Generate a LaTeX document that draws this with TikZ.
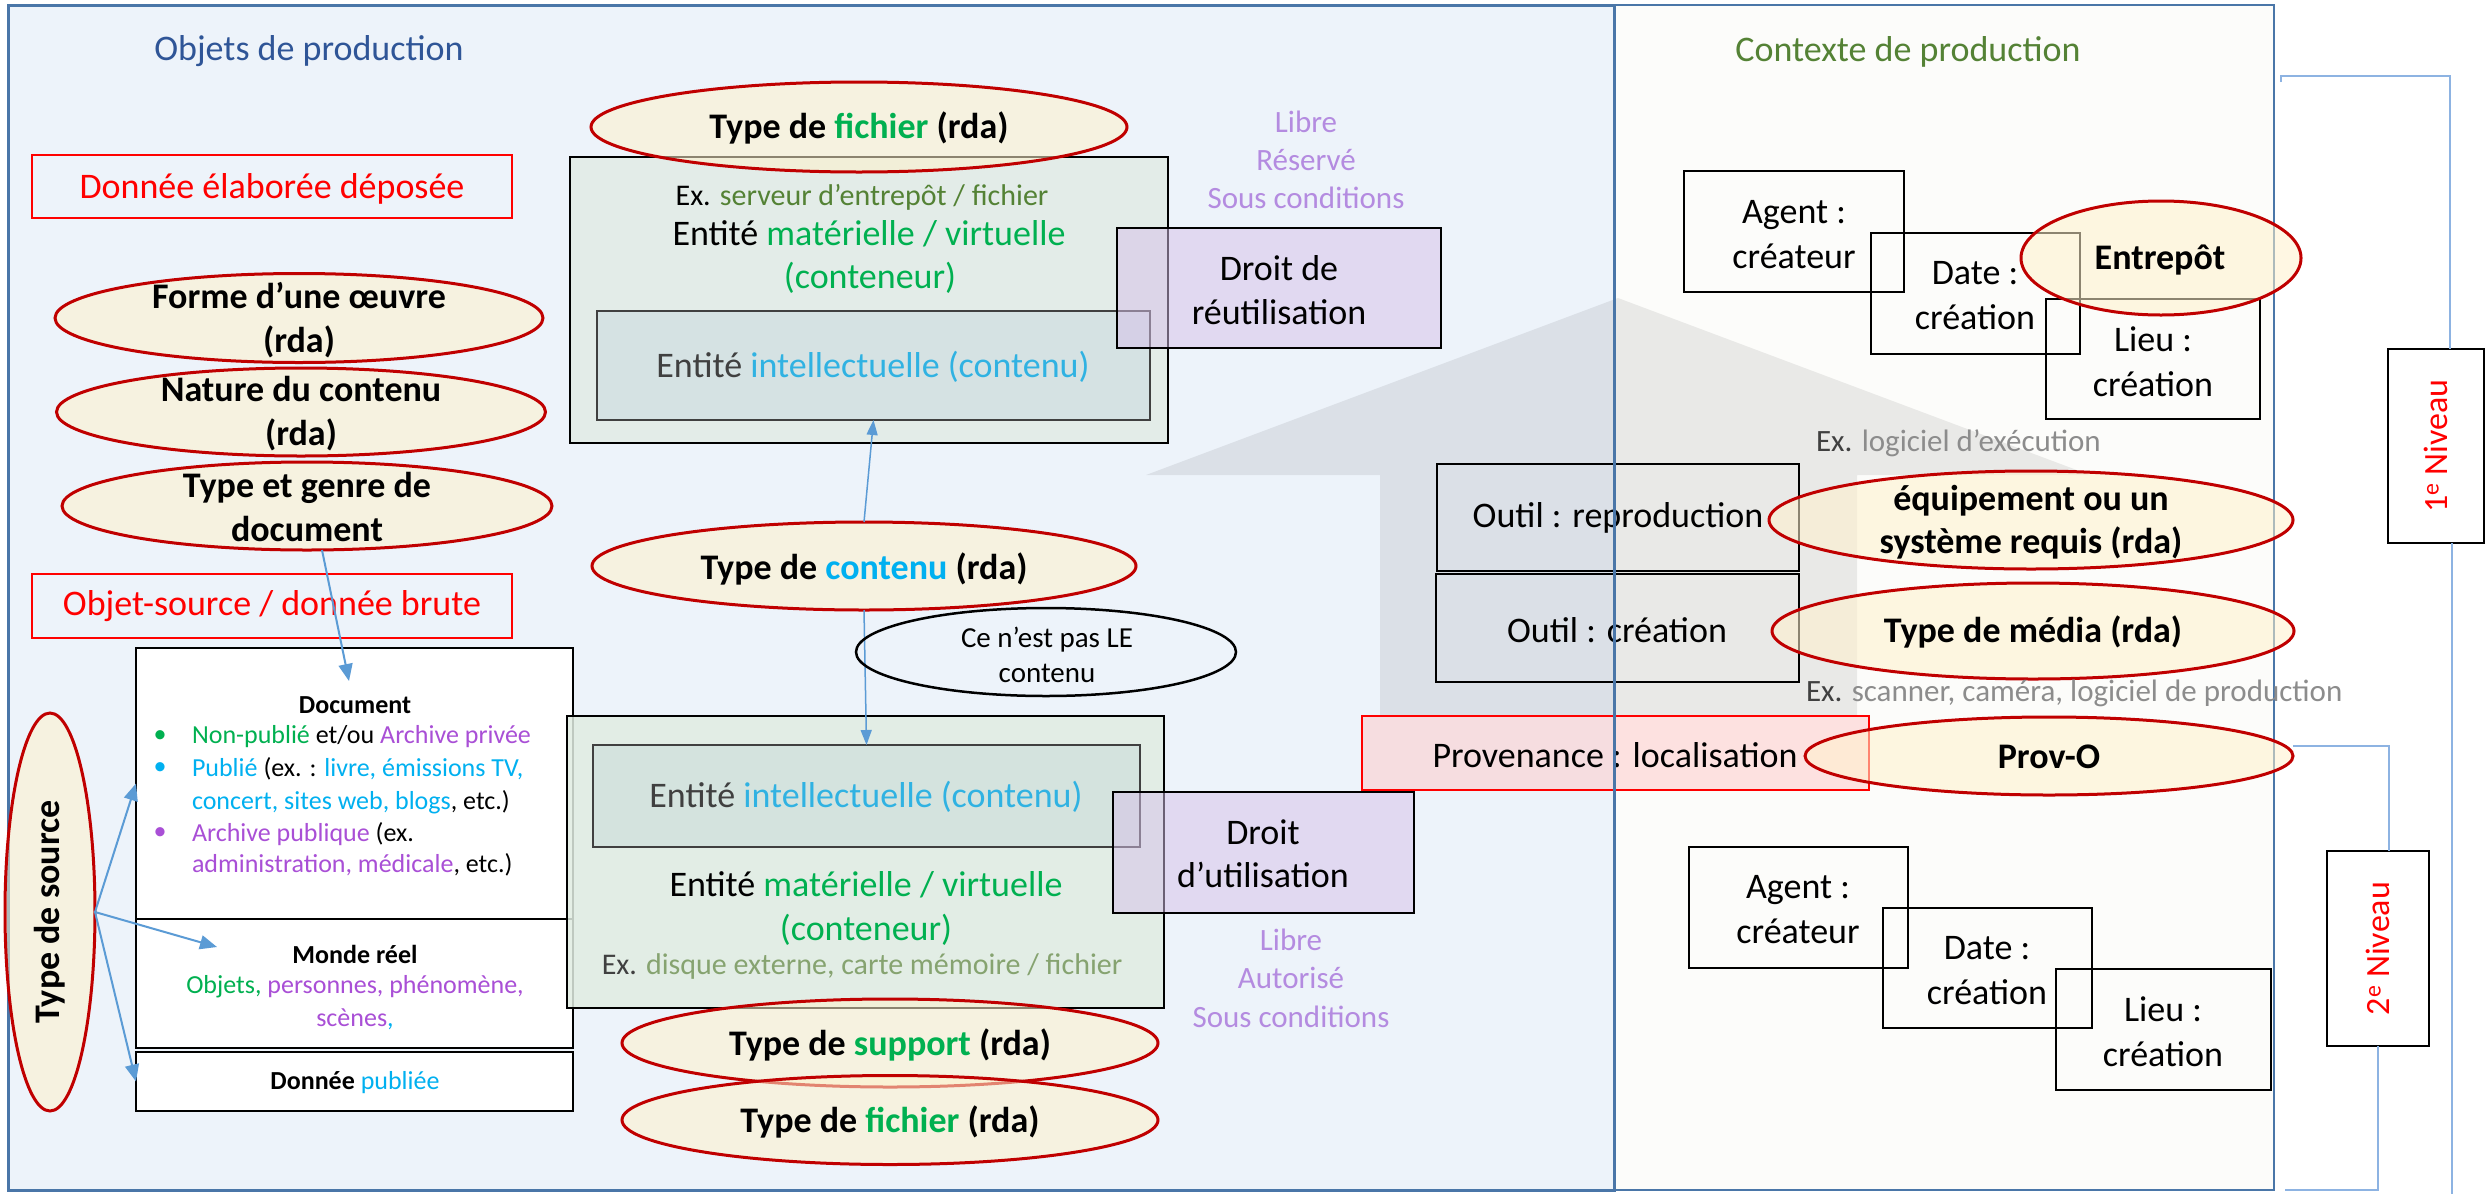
\documentclass[tikz,border=0pt]{standalone}
\usepackage{fontspec}
\setmainfont{Carlito}
\usetikzlibrary{fit,shapes.geometric,arrows.meta}
\definecolor{panelblue}{HTML}{EDF3FA}
\definecolor{panelwhite}{HTML}{FCFCFA}
\definecolor{frameblue}{HTML}{4A76A8}
\definecolor{titleblue}{HTML}{2F5597}
\definecolor{ctxgreen}{HTML}{548235}
\definecolor{ellred}{HTML}{C00000}
\definecolor{cream}{HTML}{FFF2CC}
\definecolor{vgreen}{HTML}{00B050}
\definecolor{vcyan}{HTML}{00B0F0}
\definecolor{icyan}{HTML}{30B2E2}
\definecolor{vpurple}{HTML}{A94FD6}
\definecolor{lpurple}{HTML}{B48BE0}
\definecolor{arrblue}{HTML}{5B9BD5}
\definecolor{brkblue}{HTML}{8DB3E2}
\definecolor{exgray}{HTML}{8C8C8C}
\definecolor{olive}{HTML}{548235}
\definecolor{lolive}{HTML}{86A370}
\definecolor{contA}{HTML}{E3ECE8}
\definecolor{contB}{HTML}{E1EDE2}
\definecolor{innerA}{HTML}{D5E2E3}
\definecolor{innerB}{HTML}{D4E3DE}
\definecolor{lav}{HTML}{D6C0E9}
\definecolor{dgray}{HTML}{404040}
\newcommand\myfs[2]{\fontsize{#1}{#2}\selectfont}
\tikzset{
  every node/.style={inner sep=0pt, outer sep=0pt},
  txt/.style={font=\myfs{36}{45}, align=center},
  txtb/.style={font=\myfs{36}{44}\bfseries, align=center},
  txts/.style={font=\myfs{30}{36}, align=center},
  dtxt/.style={font=\myfs{26}{32}},
  ltxt/.style={font=\myfs{31}{38}, align=center, text=lpurple},
  ov/.style={ellipse, draw=ellred, line width=3pt, fill=cream, fill opacity=0.55, text opacity=1},
  kbox/.style={draw=black, line width=2.5pt},
  gbox/.style={draw=dgray, line width=2.5pt},
  rbox/.style={draw=red, line width=2pt},
  lbox/.style={draw=black, line width=2.5pt, fill=lav, fill opacity=0.5, text opacity=1},
  barrow/.style={draw=arrblue, line width=2pt, -{Triangle[length=17pt,width=14pt]}},
  carrow/.style={draw=arrblue, line width=1.5pt, -{Triangle[length=15pt,width=11pt]}},
  brk/.style={draw=brkblue, line width=1.5pt},
}
\begin{document}
\begin{tikzpicture}[x=1pt,y=-1pt]
\useasboundingbox (0,0) rectangle (2486,1194);
\fill[white] (0,0) rectangle (2486,1194);

% panels
\node[fit={(8,5) (1614,1190)}, fill=panelblue, draw=frameblue, line width=3pt] (lpanel) {};
\node[fit={(1614,5) (2274,1190)}, fill=panelwhite, draw=frameblue, line width=2pt] (rpanel) {};
\node[txt, text=titleblue] (tobj) at (309,51) {Objets de production};
\node[txt, text=ctxgreen] (tctx) at (1908,52) {Contexte de production};

% big gray arrow
\fill[black, fill opacity=0.075] (1380,716) -- (1380,475) -- (1146,475) -- (1618,298) -- (2090,475) -- (1857,475) -- (1857,716) -- cycle;

% left column
\node[rbox, fit={(32,155) (512,218)}] (deposee) {};
\node[txt, text=red] (tdeposee) at (272,189) {Donnée élaborée déposée};
\node[ov, minimum width=488pt, minimum height=89pt] (forme) at (299,318) {};
\node[txtb] (tforme) at (299,320) {Forme d’une œuvre\\(rda)};
\node[ov, minimum width=489pt, minimum height=88pt] (nature) at (301,412) {};
\node[txtb] (tnature) at (301,414) {Nature du contenu\\(rda)};
\node[ov, minimum width=490pt, minimum height=88pt] (tg) at (307,506) {};
\node[txtb] (ttg) at (307,507) {Type et genre de\\document};
\node[rbox, fit={(32,574) (512,638)}] (objsrc) {};
\node[txt, text=red] (tobjsrc) at (272,606) {Objet-source / donnée brute};

% document boxes
\node[kbox, fill=white, fit={(136,648) (573,919)}] (docb) {};
\node[kbox, fill=white, fit={(136,919) (573,1048)}] (monde) {};
\node[kbox, fill=white, fit={(136,1052) (573,1111)}] (pub) {};
\node[dtxt, font=\myfs{26}{32}\bfseries] (tdoc) at (355,705) {Document};
\node[dtxt, text=vgreen] (bu1) at (160,737) {\textbullet};
\node[dtxt, text=vcyan] (bu2) at (160,769) {\textbullet};
\node[dtxt, text=vpurple] (bu3) at (160,834) {\textbullet};
\node[dtxt, anchor=west] (dl1) at (192,737) {\textcolor{vgreen}{Non-publié} et/ou \textcolor{vpurple}{Archive privée}};
\node[dtxt, anchor=west] (dl2) at (192,769) {\textcolor{vcyan}{Publié} (ex. : \textcolor{vcyan}{livre, émissions TV,}};
\node[dtxt, anchor=west] (dl3) at (192,802) {\textcolor{vcyan}{concert, sites web, blogs}, etc.)};
\node[dtxt, anchor=west] (dl4) at (192,834) {\textcolor{vpurple}{Archive publique} (ex.};
\node[dtxt, anchor=west] (dl5) at (192,865) {\textcolor{vpurple}{administration, médicale}, etc.)};
\node[dtxt, font=\myfs{26}{32}\bfseries] (tmonde) at (355,954) {Monde réel};
\node[dtxt, align=center, font=\myfs{26}{33}] (tmonde2) at (355,1003) {\textcolor{vgreen}{Objets,} \textcolor{vpurple}{personnes, phénomène,}\\\textcolor{vpurple}{scènes}\textcolor{vcyan}{,}};
\node[dtxt] (tpub) at (355,1083) {\textbf{Donnée} \textcolor{vcyan}{publiée}};

\node[ov, minimum width=90pt, minimum height=398pt] (tsrc) at (50,912) {};
\node[txtb, rotate=90] (ttsrc) at (50,912) {Type de source};
\coordinate (mondeA) at (217,947);
\coordinate (docA) at (349,681);
\draw[barrow] (tsrc.east) -- (docb.west);
\draw[barrow] (tsrc.east) -- (mondeA);
\draw[barrow] (tsrc.east) -- (pub.west);
\draw[barrow] ([xshift=15pt]tg.south) -- (docA);

% top middle container
\node[kbox, fill=contA, fit={(570,157) (1168,443)}] (topc) {};
\node[gbox, fill=innerA, fit={(597,311) (1150,420)}] (topi) {};
\node[txts] (tex1) at (862,197) {Ex. \textcolor{olive}{serveur d’entrepôt / fichier}};
\node[txt] (tmat1) at (869,234) {Entité \textcolor{vgreen}{matérielle / virtuelle}};
\node[txt, text=vgreen] (tcont1) at (870,278) {(conteneur)};
\node[txt, text=dgray] (tint1) at (873,367) {Entité \textcolor{icyan}{intellectuelle (contenu)}};
\node[ov, minimum width=536pt, minimum height=90pt] (fich1) at (859,127) {};
\node[txtb] (tfich1) at (859,128) {Type de \textcolor{vgreen}{fichier} (rda)};
\node[lbox, fit={(1117,228) (1441,348)}] (droit1) {};
\node[txt, font=\myfs{36}{44}] (tdroit1) at (1279,290) {Droit de\\réutilisation};
\node[ltxt] (tlib1) at (1306,160) {Libre\\Réservé\\Sous conditions};

% contenu
\node[ov, minimum width=544pt, minimum height=88pt] (cont) at (864,566) {};
\node[txtb] (tcontenu) at (864,569) {Type de \textcolor{vcyan}{contenu} (rda)};

% lower container
\node[kbox, fill=contB, fill opacity=0.85, fit={(567,716) (1164,1008)}] (botc) {};
\node[gbox, fill=innerB, fit={(593,745) (1140,847)}] (boti) {};
\node[txt, text=dgray] (tint2) at (866,797) {Entité \textcolor{icyan}{intellectuelle (contenu)}};
\node[txt] (tmat2) at (866,885) {Entité \textcolor{vgreen}{matérielle / virtuelle}};
\node[txt, text=vgreen] (tcont2) at (866,930) {(conteneur)};
\node[txts, text=dgray] (tex2) at (862,966) {Ex. \textcolor{lolive}{disque externe, carte mémoire / fichier}};
\node[lbox, fit={(1113,792) (1414,913)}] (droit2) {};
\node[txt, font=\myfs{36}{43}] (tdroit2) at (1263,854) {Droit\\d’utilisation};
\node[ltxt, font=\myfs{31}{38.5}] (tlib2) at (1291,978) {Libre\\Autorisé\\Sous conditions};
\node[ov, minimum width=536pt, minimum height=88pt] (supp) at (890,1043) {};
\node[txtb] (tsupp) at (890,1045) {Type de \textcolor{vgreen}{support} (rda)};
\node[ov, minimum width=536pt, minimum height=89pt] (fich2) at (890,1120) {};
\node[txtb] (tfich2) at (890,1122) {Type de \textcolor{vgreen}{fichier} (rda)};

\draw[carrow] (cont.north) -- (topi.south);
\draw[carrow] (cont.south) -- (boti.north);
\node[ellipse, draw=black, line width=2.5pt, minimum width=380pt, minimum height=88pt] (cnep) at (1046,652) {};
\node[font=\myfs{29}{35}, align=center] (tcnep) at (1047,655) {Ce n’est pas LE\\contenu};

% right: context boxes top
\node[kbox, fit={(1684,171) (1904,292)}] (ag1) {};
\node[kbox, fit={(1871,233) (2080,354)}] (da1) {};
\node[kbox, fit={(2046,299) (2260,419)}] (li1) {};
\node[txt] (tag1) at (1794,235) {Agent :\\créateur};
\node[txt] (tda1) at (1975,296) {Date :\\création};
\node[txt] (tli1) at (2153,362) {Lieu :\\création};
\node[ov, minimum width=280pt, minimum height=114pt] (entre) at (2161,258) {};
\node[txtb] (tentre) at (2160,260) {Entrepôt};

% tools
\node[font=\myfs{31}{38}, anchor=west] (texlog) at (1816,443) {\textcolor{dgray}{Ex.} \textcolor{exgray}{logiciel d’exécution}};
\node[kbox, fit={(1437,464) (1799,571)}] (outr) {};
\node[kbox, fit={(1436,574) (1799,682)}] (outc) {};
\node[txt] (toutr) at (1618,518) {Outil : reproduction};
\node[txt] (toutc) at (1617,630) {Outil : création};
\node[ov, minimum width=524pt, minimum height=98pt] (equip) at (2031,520) {};
\node[txtb, font=\myfs{36}{43}\bfseries] (tequip) at (2031,522) {équipement ou un\\système requis (rda)};
\node[ov, minimum width=522pt, minimum height=96pt] (media) at (2033,631) {};
\node[txtb] (tmedia) at (2033,632) {Type de média (rda)};
\node[font=\myfs{31}{38}, anchor=west] (texscan) at (1806,693) {\textcolor{dgray}{Ex.} \textcolor{exgray}{scanner, caméra, logiciel de production}};
\node[draw=red, line width=2pt, fill=red!20, fill opacity=0.55, fit={(1362,716) (1869,790)}] (prov) {};
\node[txt] (tprov) at (1615,755) {Provenance : localisation};
\node[ov, minimum width=488pt, minimum height=78pt] (provo) at (2049,756) {};
\node[txtb] (tprovo) at (2049,757) {Prov-O};

% right: context boxes bottom
\node[kbox, fit={(1689,847) (1908,968)}] (ag2) {};
\node[kbox, fit={(1883,908) (2092,1028)}] (da2) {};
\node[kbox, fit={(2056,969) (2271,1090)}] (li2) {};
\node[txt] (tag2) at (1798,910) {Agent :\\créateur};
\node[txt] (tda2) at (1987,971) {Date :\\création};
\node[txt] (tli2) at (2163,1032) {Lieu :\\création};

% divider on top
\draw[frameblue, line width=3pt] (lpanel.north east) -- (lpanel.south east);

% levels
\node[kbox, fill=white, fit={(2388,349) (2484,543)}] (niv1) {};
\node[rotate=90, text=red, font=\myfs{34}{40}] (tniv1) at (niv1) {1\textsuperscript{e} Niveau};
\node[kbox, fill=white, fit={(2327,851) (2429,1046)}] (niv2) {};
\node[rotate=90, text=red, font=\myfs{34}{40}] (tniv2) at (niv2) {2\textsuperscript{e} Niveau};
\coordinate (b1s) at (2281,82);
\coordinate (b2e) at (2285,1190);
\coordinate (b1e) at (2452,1194);
\draw[brk] (b1s) -- (2281,76) -| ([xshift=14pt]niv1.north);
\draw[brk] ([xshift=16pt]niv1.south) -- (b1e);
\draw[brk] ([yshift=10pt]provo.east) -| ([xshift=11pt]niv2.north);
\draw[brk] (niv2.south) |- (b2e);
\end{tikzpicture}
\end{document}
